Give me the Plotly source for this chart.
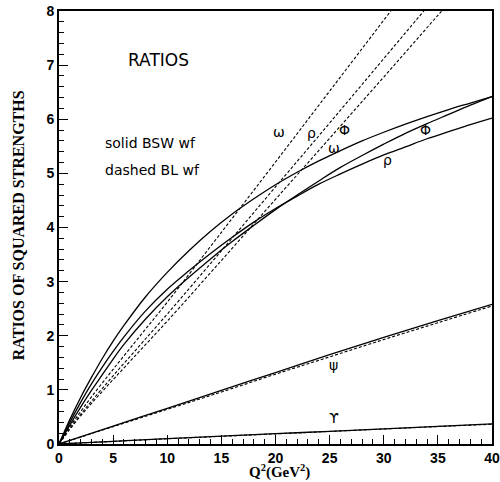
import plotly.graph_objects as go

# Q^2 grid (GeV^2)
q2 = [0, 1, 2, 3, 4, 5, 6, 8, 10, 12, 14, 16, 18, 20, 22, 24, 26, 28, 30, 32, 34, 36, 38, 40]

# solid: BSW wave function
omega_bsw = [0, 0.45, 0.86, 1.23, 1.58, 1.90, 2.19, 2.72, 3.17, 3.57, 3.93, 4.25, 4.53, 4.79,
             5.02, 5.23, 5.42, 5.60, 5.76, 5.91, 6.05, 6.18, 6.30, 6.42]
rho_bsw = [0, 0.40, 0.77, 1.11, 1.42, 1.71, 1.98, 2.46, 2.86, 3.20, 3.52, 3.82, 4.10, 4.35,
           4.58, 4.80, 4.99, 5.17, 5.34, 5.49, 5.64, 5.77, 5.90, 6.02]
phi_bsw = [0, 0.35, 0.68, 0.99, 1.28, 1.57, 1.84, 2.31, 2.72, 3.08, 3.42, 3.74, 4.04, 4.33,
           4.60, 4.86, 5.11, 5.33, 5.54, 5.74, 5.92, 6.09, 6.26, 6.42]

# dashed: BL wave function
q2_bl = [0, 1, 2, 3, 5, 7.5, 10, 15, 20, 25, 30, 35, 40]
omega_bl = [0, 0.32, 0.60, 0.87, 1.38, 2.00, 2.62, 3.91, 5.21, 6.52, 7.83, 9.14, 10.45]
rho_bl = [0, 0.29, 0.55, 0.79, 1.26, 1.83, 2.40, 3.57, 4.75, 5.93, 7.12, 8.31, 9.50]
phi_bl = [0, 0.27, 0.52, 0.75, 1.19, 1.73, 2.27, 3.39, 4.52, 5.65, 6.78, 7.92, 9.05]

# heavy quarkonia
q2_h = [0, 5, 10, 15, 20, 25, 30, 35, 40]
psi_bsw = [0, 0.33, 0.66, 0.99, 1.32, 1.65, 1.97, 2.28, 2.58]
psi_bl = [0, 0.32, 0.64, 0.96, 1.29, 1.61, 1.93, 2.24, 2.55]
ups_bsw = [0, 0.05, 0.10, 0.145, 0.19, 0.235, 0.28, 0.325, 0.37]
ups_bl = [0, 0.048, 0.097, 0.142, 0.187, 0.232, 0.277, 0.322, 0.365]

# curve labels: (text, x, y)
labels = [("ω", 20.3, 5.77), ("ρ", 23.3, 5.74), ("Φ", 26.4, 5.80),
          ("ω", 25.4, 5.47), ("Φ", 33.9, 5.80), ("ρ", 30.35, 5.25),
          ("ψ", 25.4, 1.46), ("ϒ", 25.4, 0.475)]

fig = go.Figure()

solid = dict(color="black", width=1.3)
dashed = dict(color="black", width=1.1, dash="3px,2px")

for ys in (omega_bsw, rho_bsw, phi_bsw):
    fig.add_trace(go.Scatter(x=q2, y=ys, mode="lines", line=dict(shape="spline", **solid),
                             showlegend=False, hoverinfo="skip"))
for ys in (omega_bl, rho_bl, phi_bl):
    fig.add_trace(go.Scatter(x=q2_bl, y=ys, mode="lines", line=dict(shape="spline", **dashed),
                             showlegend=False, hoverinfo="skip"))
for ys in (psi_bsw, ups_bsw):
    fig.add_trace(go.Scatter(x=q2_h, y=ys, mode="lines", line=dict(shape="spline", **solid),
                             showlegend=False, hoverinfo="skip"))
for ys in (psi_bl, ups_bl):
    fig.add_trace(go.Scatter(x=q2_h, y=ys, mode="lines", line=dict(shape="spline", **dashed),
                             showlegend=False, hoverinfo="skip"))

txtfont = dict(family="DejaVu Sans", size=14, color="black")
for t, x, y in labels:
    fig.add_annotation(x=x, y=y, text=t, showarrow=False, font=txtfont,
                       xanchor="center", yanchor="middle")

fig.add_annotation(x=9.17, y=7.10, text="RATIOS", showarrow=False,
                   font=dict(family="DejaVu Sans", size=17, color="black"),
                   xanchor="center", yanchor="middle")
fig.add_annotation(x=4.06, y=5.56, text="solid BSW wf", showarrow=False,
                   font=txtfont, xanchor="left", yanchor="middle")
fig.add_annotation(x=4.06, y=5.06, text="dashed BL wf", showarrow=False,
                   font=txtfont, xanchor="left", yanchor="middle")

# axis titles
fig.add_annotation(xref="paper", yref="paper", x=-0.095, y=0.505,
                   text="<b>RATIOS OF SQUARED STRENGTHS</b>", textangle=-90,
                   showarrow=False, xanchor="center", yanchor="middle",
                   font=dict(family="Liberation Serif", size=16, color="black"))
fig.add_annotation(xref="paper", yref="paper", x=0.51, y=-0.063,
                   text="<b>Q<sup>2</sup>(GeV<sup>2</sup>)</b>",
                   showarrow=False, xanchor="center", yanchor="middle",
                   font=dict(family="Liberation Serif", size=15, color="black"))

tickfont = dict(family="Liberation Sans", size=14, color="black", weight="bold")
common = dict(tickmode="linear", ticks="inside", ticklen=9, tickwidth=1.2, tickcolor="black",
              showline=True, linewidth=1.6, linecolor="black", mirror=True,
              showgrid=False, zeroline=False, tickfont=tickfont, automargin=False,
              tickprefix="<b>", ticksuffix="</b>")
fig.update_xaxes(range=[0, 40], tick0=0, dtick=5,
                 minor=dict(dtick=1, ticks="inside", ticklen=5, tickwidth=1, tickcolor="black"),
                 **common)
fig.update_yaxes(range=[0, 8], tick0=0, dtick=1,
                 minor=dict(dtick=0.2, ticks="inside", ticklen=5, tickwidth=1, tickcolor="black"),
                 **common)

fig.update_layout(width=500, height=482, margin=dict(l=59, r=8, t=11, b=38, autoexpand=False),
                  plot_bgcolor="white", paper_bgcolor="white", showlegend=False)

fig.write_html("out.html", config={"displayModeBar": False},
               post_script="document.body.style.margin='0';")
